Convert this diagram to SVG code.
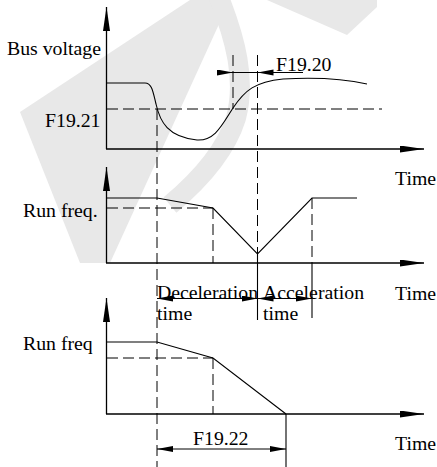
<svg xmlns="http://www.w3.org/2000/svg" width="437" height="467" viewBox="0 0 437 467">
<style>
  text { font-family: "Liberation Serif", "Times New Roman", serif; font-size: 19.8px; fill: #000; }
  .ln { fill: none; stroke: #000; stroke-width: 1.1; }
  .ax { fill: none; stroke: #000; stroke-width: 1.3; marker-end: url(#axHead); }
  .ds { fill: none; stroke: #000; stroke-width: 1; stroke-dasharray: 11 5; }
  .dim { fill: none; stroke: #000; stroke-width: 1; marker-start: url(#dimHead); marker-end: url(#dimHead); }
  .one { fill: none; stroke: #000; stroke-width: 1; marker-end: url(#dimHead); }
  .wm { fill: #e8e8e8; stroke: none; }
  .wms { fill: none; stroke: #e8e8e8; stroke-width: 20; }
</style>
<defs>
  <marker id="axHead" markerUnits="userSpaceOnUse" markerWidth="25" markerHeight="8" refX="24" refY="3.5" orient="auto">
    <path d="M0,0 L24,3.5 L0,7 z" fill="#000"/>
  </marker>
  <marker id="dimHead" markerUnits="userSpaceOnUse" markerWidth="17" markerHeight="7" refX="16" refY="3" orient="auto-start-reverse">
    <path d="M0,0 L16,3 L0,6 z" fill="#000"/>
  </marker>
</defs>
<rect width="437" height="467" fill="#fff"/>
<g id="watermark">
  <polygon class="wm" points="190,0 230,0 110,263 80,263 20,112"/>
  <polygon class="wm" points="267,0 377,0 377,7 347,35"/>
  <path class="wms" d="M218,-5 C236,40 246,80 236,118 C226,150 200,180 170,205"/>
</g>

<g id="chart-bus-voltage">
  <line class="ax" x1="106.5" y1="149" x2="106.5" y2="7"/>
  <line class="ax" x1="106" y1="149" x2="424" y2="149"/>
  <path class="ln" d="M106.5,83 L145,83 C152,83 153,92 156,104 C160,122 168,137 197,140 C215,141 222,125 233,108 C245,90 255,82 283,79 C320,77 345,79 367,84"/>
  <line class="ds" x1="107" y1="109" x2="382" y2="109"/>
  <text x="7" y="55">Bus voltage</text>
  <text x="45" y="127">F19.21</text>
  <text x="276" y="70.5">F19.20</text>
  <line class="ds" x1="233" y1="55" x2="233" y2="109"/>
  <line class="ln" x1="217" y1="72.5" x2="303" y2="72.5"/>
  <line class="one" x1="217" y1="72.5" x2="233" y2="72.5"/>
  <line class="one" x1="273" y1="72.5" x2="257.5" y2="72.5"/>
  <text x="395" y="185">Time</text>
</g>

<g id="chart-run-freq">
  <line class="ax" x1="106.5" y1="263" x2="106.5" y2="167"/>
  <line class="ax" x1="106" y1="263" x2="424" y2="263"/>
  <path class="ln" d="M106.5,198 L157,198 L213,208 L257.5,254 L312,198 L357,198"/>
  <line class="ds" x1="107" y1="208" x2="213" y2="208"/>
  <line class="ds" x1="213" y1="208" x2="213" y2="263"/>
  <line class="ds" x1="312" y1="198" x2="312" y2="263"/>
  <line class="ln" x1="312" y1="263" x2="312" y2="318"/>
  <text x="23" y="217">Run freq.</text>
  <line class="dim" x1="157" y1="298.5" x2="257.5" y2="298.5"/>
  <line class="dim" x1="257.5" y1="298.5" x2="312" y2="298.5"/>
  <text x="157" y="299">Deceleration</text>
  <text x="263" y="299">Acceleration</text>
  <text x="157" y="320">time</text>
  <text x="263" y="320">time</text>
  <text x="395" y="300">Time</text>
</g>

<g id="chart-run-freq-stop">
  <line class="ax" x1="106.5" y1="414" x2="106.5" y2="298"/>
  <line class="ax" x1="106" y1="414" x2="424" y2="414"/>
  <path class="ln" d="M106.5,342 L157,342 L213,358 L286,414"/>
  <line class="ds" x1="107" y1="358" x2="213" y2="358"/>
  <line class="ds" x1="213" y1="358" x2="213" y2="414"/>
  <line class="ln" x1="286" y1="414" x2="286" y2="467"/>
  <text x="23" y="350">Run freq</text>
  <line class="dim" x1="157" y1="449" x2="286" y2="449"/>
  <text x="193" y="445">F19.22</text>
  <text x="395" y="450">Time</text>
</g>

<g id="connectors">
  <line class="ds" x1="157" y1="109" x2="157" y2="467"/>
  <line class="ds" x1="257.5" y1="55" x2="257.5" y2="254"/>
  <line class="ln" x1="257.5" y1="254" x2="257.5" y2="320"/>
</g>
</svg>
